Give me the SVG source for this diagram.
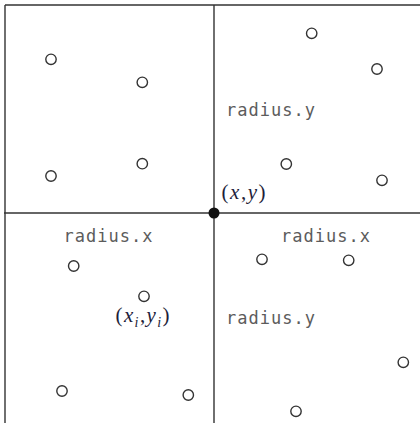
<svg xmlns="http://www.w3.org/2000/svg" width="420" height="423" viewBox="0 0 420 423">
<style>
.ln{stroke:#333;stroke-width:1.4;fill:none}
.pt{fill:#fff;stroke:#333;stroke-width:1.4}
.mono{font-family:"DejaVu Sans Mono","Liberation Mono",monospace;font-size:17px;letter-spacing:1px;fill:#5c5c5c}
.math{font-family:"Liberation Serif","Times New Roman",serif;font-size:21px;fill:#1e1e3a}
.it{font-style:italic}
</style>
<rect width="420" height="423" fill="#fff"/>
<g id="connectors">
<line class="ln" x1="5" y1="5" x2="420" y2="5"/>
<line class="ln" x1="5" y1="5" x2="5" y2="423"/>
<line class="ln" x1="4" y1="213" x2="420" y2="213"/>
<line class="ln" x1="214" y1="5" x2="214" y2="423"/>
</g>
<g id="points">
<circle class="pt" cx="51" cy="59.3" r="5.2"/>
<circle class="pt" cx="142.3" cy="82.3" r="5.2"/>
<circle class="pt" cx="51" cy="176" r="5.2"/>
<circle class="pt" cx="142.3" cy="163.7" r="5.2"/>
<circle class="pt" cx="311.7" cy="33.3" r="5.2"/>
<circle class="pt" cx="377" cy="69" r="5.2"/>
<circle class="pt" cx="286.3" cy="164" r="5.2"/>
<circle class="pt" cx="382" cy="180.3" r="5.2"/>
<circle class="pt" cx="73.7" cy="266" r="5.2"/>
<circle class="pt" cx="144" cy="296.3" r="5.2"/>
<circle class="pt" cx="262" cy="259.3" r="5.2"/>
<circle class="pt" cx="348.7" cy="260.3" r="5.2"/>
<circle class="pt" cx="62" cy="391" r="5.2"/>
<circle class="pt" cx="188.3" cy="395" r="5.2"/>
<circle class="pt" cx="403.3" cy="362.3" r="5.2"/>
<circle class="pt" cx="296" cy="411.3" r="5.2"/>
</g>
<g id="center">
<circle cx="214" cy="213" r="5.5" fill="#111"/>
<text class="math" x="221.5" y="199" textLength="44" lengthAdjust="spacing">(<tspan class="it">x</tspan>,<tspan class="it">y</tspan>)</text>
</g>
<g id="point-label">
<text class="math" x="115.5" y="321.7" textLength="54" lengthAdjust="spacing">(<tspan class="it">x</tspan><tspan class="it" font-size="14" dy="5">i</tspan><tspan dy="-5">,</tspan><tspan class="it">y</tspan><tspan class="it" font-size="14" dy="5">i</tspan><tspan dy="-5">)</tspan></text>
</g>
<g id="labels">
<text class="mono" x="226" y="116">radius.y</text>
<text class="mono" x="63.5" y="241.7">radius.x</text>
<text class="mono" x="281" y="241.7">radius.x</text>
<text class="mono" x="226" y="324">radius.y</text>
</g>
</svg>
